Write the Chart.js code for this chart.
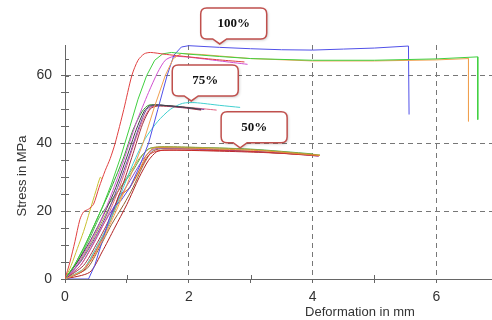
<!DOCTYPE html>
<html lang="en">
<head>
    <meta charset="UTF-8">
    <title>Stress vs deformation</title>
    <style>
        body {
            margin: 0;
            background: #fff;
        }
        #chart {
            display: block;
        }
    </style>
    <script src="https://cdn.jsdelivr.net/npm/chart.js"></script>
</head>
<body>
    <canvas id="chart" width="492" height="320"></canvas>
    <script>
        // curves: [deformation mm, stress MPa]
        // 100% group
        const red100 = [[0,0],[0.08,5],[0.16,11],[0.24,17.5],[0.3,19.8],[0.38,20.6],[0.46,22],[0.55,27],[0.65,32],[0.73,35.5],[0.81,40],[0.95,50],[1.08,60],[1.18,64.5],[1.28,66.4],[1.38,66.8],[1.6,66.3],[2.0,65.5],[2.5,64.6],[2.9,64]];
        const green100 = [[0,0],[0.15,4],[0.3,9],[0.45,15],[0.6,21],[0.75,28],[0.9,36],[1.05,45],[1.18,53],[1.32,60],[1.45,64.5],[1.58,66.4],[1.72,66.8],[2.0,66.3],[2.5,65.6],[3,65],[4,64.5],[5,64.5],[6,64.9],[6.67,65.5],[6.67,47]];
        const orange100 = [[0,0],[0.25,2],[0.45,6],[0.65,13],[0.85,21],[1.05,30],[1.26,40],[1.45,51],[1.62,60],[1.75,65],[1.88,66.5],[2.2,66.2],[3,65],[4,64.3],[5,64.3],[6,64.6],[6.52,65],[6.52,46.5]];
        const blue100 = [[0,0],[0.38,0],[0.48,4],[0.6,11],[0.72,18],[0.8,21.5],[0.9,23],[1.05,27],[1.2,33],[1.35,40],[1.5,50],[1.65,60],[1.76,66],[1.88,68.4],[2.0,68.8],[2.5,68.3],[3,67.9],[3.5,67.6],[4,67.5],[4.5,67.8],[5,68.1],[5.55,68.7],[5.56,48.5]];
        const magenta100 = [[0,0],[0.15,3],[0.35,9],[0.55,16],[0.75,25],[0.95,35],[1.15,46],[1.35,55],[1.5,61],[1.62,64.5],[1.75,65.6],[2.0,65.4],[2.5,64.3],[2.95,63.3]];

        // 75% group
        const black75 = [[0,0],[0.2,5],[0.4,11],[0.6,18],[0.8,26],[1.0,36],[1.15,44],[1.28,49.5],[1.38,51.2],[1.6,51.2],[1.9,50.7],[2.2,50]];
        const purple75 = [[0,0],[0.25,5],[0.45,11],[0.65,18],[0.85,27],[1.05,37],[1.2,45],[1.32,50],[1.45,51.3],[1.8,50.8],[2.25,50]];
        const maroon75 = [[0,0],[0.3,4],[0.5,10],[0.7,17],[0.9,26],[1.1,37],[1.25,45.5],[1.38,50.2],[1.5,51],[1.9,50.5],[2.2,49.8]];
        const green75 = [[0,0],[0.15,4],[0.35,11],[0.55,19],[0.75,27],[0.95,36],[1.1,44],[1.25,49.5],[1.36,51.3],[1.7,51],[2.1,50.3]];
        const pink75 = [[0,0],[0.25,4],[0.5,12],[0.7,19],[0.9,28],[1.1,39],[1.25,46.5],[1.38,50.5],[1.5,51.2],[2.0,50.6],[2.45,49.8]];
        const cyan75 = [[0,0],[0.3,3],[0.5,9],[0.7,16],[0.9,25],[1.1,34],[1.3,41.5],[1.5,46.5],[1.7,50],[1.9,51.8],[2.1,52],[2.5,51.2],[2.83,50.6]];

        // 50% group
        const orange50 = [[0,0],[0.3,3],[0.5,9],[0.7,16],[0.85,22],[0.93,25],[1.02,26.5],[1.15,30],[1.3,36],[1.42,38.5],[1.7,38.7],[2.5,38.3],[3.2,37.8],[4.12,36.4]];
        const red50 = [[0,0],[0.3,2.5],[0.55,10],[0.75,18],[0.88,25],[0.95,25.5],[1.05,27],[1.2,32],[1.35,36.5],[1.5,37.8],[2,38],[3,37.6],[4.1,36.3]];
        const olive50 = [[0,0],[0.2,4],[0.4,10],[0.6,17],[0.8,24],[1.0,30],[1.2,35.5],[1.35,38.3],[1.5,39],[2,38.9],[3,38.2],[4.12,36.6]];
        const purple50 = [[0,0],[0.25,4],[0.45,10],[0.65,17],[0.85,23],[1.05,29],[1.25,35],[1.4,38],[1.55,38.6],[2.5,38],[3.5,37.2],[4.1,36.2]];
        const brown50 = [[0,0],[0.35,3],[0.55,9],[0.75,16],[0.95,22],[1.1,27],[1.25,33],[1.4,37.5],[1.55,38.4],[2.5,38.1],[4.05,36.5]];
        const green50 = [[0,0],[0.2,5],[0.4,12],[0.55,18],[0.7,22],[0.9,27],[1.1,32],[1.25,36.5],[1.38,38.6],[2.0,38.8],[3,38.3],[4.0,36.9]];
        const darkred50 = [[0,0],[0.4,2],[0.6,8],[0.8,15],[1.0,22],[1.2,30],[1.35,35],[1.48,37.5],[1.6,38],[2.5,37.7],[3.2,37.3],[4.05,36.6]];
        const yellow = [[0,0],[0.1,4],[0.2,9],[0.3,14],[0.4,20],[0.5,26],[0.57,30],[0.6,29.5]];

        const curves = [red100, green100, orange100, blue100, magenta100,
                        black75, purple75, maroon75, green75, pink75, cyan75,
                        orange50, red50, olive50, purple50, brown50, green50, darkred50, yellow];
        const curveColors = ['#e04040', '#40d040', '#f0a050', '#5050e8', '#d050d0',
                             '#404040', '#7040a0', '#a03040', '#30a030', '#e06080', '#40d0d0',
                             '#e09030', '#d03030', '#a0a040', '#9050c0', '#906030', '#50b050', '#b02020', '#c8c030'];
        // curves that end with a vertical drop are drawn without smoothing
        const droppingCurves = [green100, orange100, blue100];

        // callouts: label and the data point the notch points at
        const calloutLabels = ['100%', '75%', '50%'];
        const calloutX = [2.5, 2.04, 2.83];
        const calloutY = [69.3, 52.5, 38.7];

        const xTitle = 'Deformation in mm';
        const yTitle = 'Stress in MPa';

        const datasets = curves.map((c, i) => ({
            data: c.map(p => ({ x: p[0], y: p[1] })),
            borderColor: curveColors[i],
            borderWidth: 1,
            pointRadius: 0,
            showLine: true,
            tension: droppingCurves.includes(c) ? 0 : 0.25,
            fill: false
        }));

        const extras = {
            id: 'extras',
            afterDraw(chart) {
                const ctx = chart.ctx;
                const xs = chart.scales.x, ys = chart.scales.y;
                const area = chart.chartArea;
                ctx.save();
                // minor tick marks crossing the axes
                ctx.strokeStyle = '#666';
                ctx.lineWidth = 1;
                for (let v = 5; v < 69; v += 5) {
                    const py = Math.round(ys.getPixelForValue(v)) + 0.5;
                    ctx.beginPath();
                    ctx.moveTo(area.left, py);
                    ctx.lineTo(area.left + 4, py);
                    ctx.stroke();
                }
                for (let v = 1; v < 7; v += 2) {
                    const px = Math.round(xs.getPixelForValue(v)) + 0.5;
                    ctx.beginPath();
                    ctx.moveTo(px, area.bottom);
                    ctx.lineTo(px, area.bottom - 4);
                    ctx.stroke();
                }
                // axis titles
                ctx.fillStyle = '#333';
                ctx.font = '13px "Liberation Sans", Arial, sans-serif';
                ctx.textAlign = 'center';
                ctx.textBaseline = 'middle';
                ctx.fillText(xTitle, 360, 312);
                ctx.translate(22, 176);
                ctx.rotate(-Math.PI / 2);
                ctx.fillText(yTitle, 0, 0);
                ctx.restore();

                // callout boxes
                ctx.save();
                calloutLabels.forEach((label, i) => {
                    const tx = xs.getPixelForValue(calloutX[i]);
                    const ty = ys.getPixelForValue(calloutY[i]);
                    const w = 66, h = 31, r = 6;
                    const left = tx - 19, bottom = ty - 5, top = bottom - h, right = left + w;
                    ctx.beginPath();
                    ctx.moveTo(left + r, top);
                    ctx.lineTo(right - r, top);
                    ctx.quadraticCurveTo(right, top, right, top + r);
                    ctx.lineTo(right, bottom - r);
                    ctx.quadraticCurveTo(right, bottom, right - r, bottom);
                    ctx.lineTo(tx + 7, bottom);
                    ctx.lineTo(tx, ty);
                    ctx.lineTo(tx - 7, bottom);
                    ctx.lineTo(left + r, bottom);
                    ctx.quadraticCurveTo(left, bottom, left, bottom - r);
                    ctx.lineTo(left, top + r);
                    ctx.quadraticCurveTo(left, top, left + r, top);
                    ctx.closePath();
                    ctx.shadowColor = 'rgba(0,0,0,0.25)';
                    ctx.shadowBlur = 3;
                    ctx.shadowOffsetX = 1;
                    ctx.shadowOffsetY = 1;
                    ctx.fillStyle = '#fff';
                    ctx.fill();
                    ctx.shadowColor = 'transparent';
                    ctx.strokeStyle = '#c0504d';
                    ctx.lineWidth = 1.5;
                    ctx.stroke();
                    ctx.fillStyle = '#111';
                    ctx.font = 'bold 13px "Liberation Serif", "Times New Roman", serif';
                    ctx.textAlign = 'center';
                    ctx.textBaseline = 'middle';
                    ctx.fillText(label, left + w / 2, top + h / 2);
                });
                ctx.restore();
            }
        };

        new Chart(document.getElementById('chart'), {
            type: 'scatter',
            data: { datasets: datasets },
            options: {
                responsive: false,
                animation: false,
                layout: { padding: { top: 45, right: 0, left: 0, bottom: 0 } },
                plugins: {
                    legend: { display: false },
                    tooltip: { enabled: false }
                },
                scales: {
                    x: {
                        type: 'linear',
                        min: 0,
                        max: 6.9,
                        afterFit(scale) {
                            scale.height = 41;
                            scale.paddingLeft = 0;
                            scale.paddingRight = 0;
                        },
                        ticks: {
                            stepSize: 1,
                            autoSkip: false,
                            maxRotation: 0,
                            padding: 6,
                            color: '#333',
                            font: { size: 14, family: '"Liberation Sans", Arial, sans-serif' },
                            callback: v => (v % 2 === 0 ? v : '')
                        },
                        grid: {
                            color: c => (c.tick && c.tick.value % 2 === 0 && c.tick.value > 0 ? '#777' : 'transparent'),
                            tickColor: c => (c.tick && Number.isInteger(c.tick.value) ? '#666' : 'transparent'),
                            tickLength: 4
                        },
                        border: { color: '#666', dash: [5, 4] }
                    },
                    y: {
                        min: 0,
                        max: 69,
                        afterFit(scale) {
                            scale.width = 65;
                            scale.paddingTop = 0;
                            scale.paddingBottom = 0;
                        },
                        ticks: {
                            stepSize: 5,
                            autoSkip: false,
                            padding: 9,
                            color: '#333',
                            font: { size: 14, family: '"Liberation Sans", Arial, sans-serif' },
                            callback: v => (v % 20 === 0 ? v : '')
                        },
                        grid: {
                            color: c => (c.tick && c.tick.value % 20 === 0 && c.tick.value > 0 ? '#777' : 'transparent'),
                            tickColor: c => (c.tick && c.tick.value % 5 === 0 ? '#666' : 'transparent'),
                            tickLength: 4
                        },
                        border: { color: '#666', dash: [5, 4] }
                    }
                }
            },
            plugins: [extras]
        });
    </script>
</body>
</html>
